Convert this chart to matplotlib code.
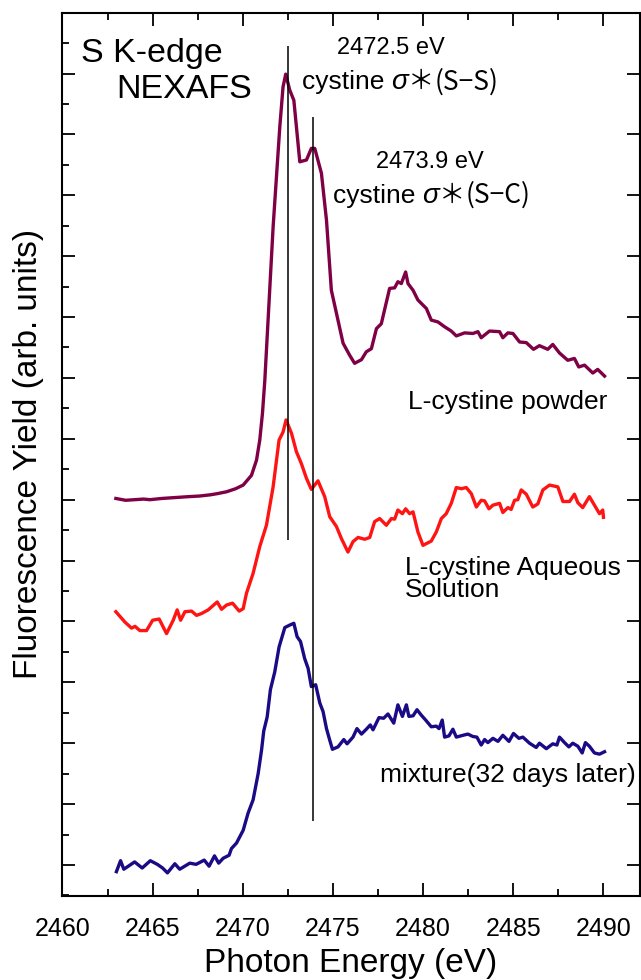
import matplotlib
matplotlib.use('Agg')
import matplotlib.pyplot as plt
from matplotlib.ticker import MultipleLocator, NullFormatter

plt.rcParams['font.family'] = ['Liberation Sans', 'DejaVu Sans']

# L-cystine powder
powder_x = [2462.96, 2463.5, 2464.0, 2464.5, 2464.85, 2465.5, 2466.0, 2466.5, 2467.0, 2467.6,
            2468.2, 2468.6, 2469.1, 2469.6, 2470.02, 2470.48, 2470.76, 2470.94, 2471.09, 2471.22,
            2471.68, 2472.05, 2472.23, 2472.38, 2472.60, 2472.83, 2473.16, 2473.53, 2473.80, 2473.99,
            2474.36, 2474.64, 2474.91, 2475.56, 2475.93, 2476.2, 2476.58, 2476.85, 2477.13, 2477.41,
            2477.68, 2478.14, 2478.42, 2478.6, 2478.79, 2479.03, 2479.16, 2479.44, 2479.71, 2480.18,
            2480.45, 2480.82, 2481.19, 2481.56, 2481.84, 2482.30, 2482.76, 2483.04, 2483.22, 2483.68,
            2484.24, 2484.42, 2484.70, 2484.98, 2485.35, 2485.72, 2486.12, 2486.45, 2486.91, 2487.19,
            2487.56, 2488.02, 2488.39, 2488.63, 2488.95, 2489.41, 2489.68, 2490.06]
powder_y = [6.02, 5.99, 6.00, 6.01, 6.00, 6.02, 6.03, 6.04, 6.05, 6.06,
            6.08, 6.10, 6.13, 6.18, 6.24, 6.40, 6.65, 6.98, 7.42, 7.96,
            10.48, 12.12, 12.78, 12.99, 12.73, 12.56, 11.55, 11.58, 11.77, 11.77,
            11.36, 10.59, 9.44, 8.57, 8.37, 8.24, 8.30, 8.43, 8.48, 8.81,
            8.89, 9.47, 9.48, 9.58, 9.55, 9.74, 9.55, 9.44, 9.28, 9.14,
            8.95, 8.92, 8.84, 8.77, 8.69, 8.74, 8.73, 8.76, 8.66, 8.77,
            8.76, 8.66, 8.74, 8.73, 8.59, 8.58, 8.47, 8.53, 8.47, 8.55,
            8.41, 8.29, 8.32, 8.18, 8.21, 8.08, 8.14, 8.03]

# L-cystine aqueous solution
aqueous_x = [2462.96, 2463.46, 2463.83, 2464.02, 2464.29, 2464.66, 2465.0, 2465.36, 2465.77, 2466.14,
             2466.36, 2466.55, 2466.79, 2467.16, 2467.43, 2467.71, 2468.08, 2468.58, 2468.82, 2469.10,
             2469.43, 2469.80, 2470.02, 2470.2, 2470.57, 2470.94, 2471.31, 2471.68, 2472.01, 2472.23,
             2472.40, 2472.70, 2472.97, 2473.25, 2473.53, 2473.80, 2474.17, 2474.54, 2474.82, 2475.19,
             2475.47, 2475.83, 2476.11, 2476.39, 2476.76, 2477.04, 2477.31, 2477.59, 2477.96, 2478.24,
             2478.42, 2478.6, 2478.85, 2479.03, 2479.25, 2479.44, 2479.71, 2479.99, 2480.45, 2480.73,
             2481.01, 2481.28, 2481.56, 2481.84, 2482.12, 2482.39, 2482.67, 2482.95, 2483.22, 2483.41,
             2483.65, 2483.87, 2484.24, 2484.42, 2484.70, 2484.88, 2485.07, 2485.25, 2485.44, 2485.72,
             2486.08, 2486.36, 2486.64, 2487.01, 2487.47, 2487.75, 2488.12, 2488.39, 2488.58, 2488.85,
             2489.22, 2489.50, 2489.78, 2489.96, 2490.0]
aqueous_y = [4.16, 3.99, 3.89, 3.92, 3.85, 3.85, 4.02, 4.04, 3.80, 4.02,
             4.19, 4.02, 4.16, 4.17, 4.10, 4.13, 4.19, 4.32, 4.20, 4.27,
             4.30, 4.17, 4.21, 4.46, 4.79, 5.23, 5.58, 6.21, 6.98, 7.11,
             7.31, 7.09, 6.79, 6.59, 6.35, 6.17, 6.31, 6.05, 5.72, 5.56,
             5.36, 5.14, 5.31, 5.38, 5.35, 5.38, 5.64, 5.69, 5.58, 5.69,
             5.68, 5.83, 5.77, 5.85, 5.77, 5.80, 5.47, 5.25, 5.32, 5.47,
             5.69, 5.77, 5.94, 6.20, 6.18, 6.20, 6.10, 5.88, 5.99, 5.98,
             5.85, 5.91, 5.94, 5.79, 5.87, 5.84, 5.99, 6.00, 6.16, 6.09,
             5.88, 5.93, 6.16, 6.24, 6.21, 5.97, 5.97, 6.09, 5.95, 5.87,
             6.05, 5.91, 5.77, 5.83, 5.71]

# mixture (32 days later)
mixture_x = [2462.99, 2463.22, 2463.40, 2464.0, 2464.42, 2464.87, 2465.26, 2465.55, 2465.82, 2466.23,
             2466.50, 2467.06, 2467.41, 2467.86, 2468.13, 2468.43, 2468.66, 2468.91, 2469.24, 2469.37,
             2469.65, 2470.02, 2470.29, 2470.57, 2470.85, 2471.04, 2471.16, 2471.35, 2471.53, 2471.77,
             2472.01, 2472.33, 2472.60, 2472.83, 2473.01, 2473.20, 2473.43, 2473.62, 2473.80, 2474.04,
             2474.27, 2474.45, 2474.64, 2474.82, 2474.97, 2475.28, 2475.60, 2475.78, 2476.11, 2476.33,
             2476.58, 2476.85, 2477.07, 2477.22, 2477.55, 2477.81, 2478.05, 2478.37, 2478.60, 2478.85,
             2479.07, 2479.21, 2479.44, 2479.66, 2479.90, 2480.14, 2480.45, 2480.73, 2480.88, 2481.06,
             2481.19, 2481.43, 2481.65, 2481.84, 2482.21, 2482.48, 2482.76, 2482.98, 2483.22, 2483.41,
             2483.59, 2483.87, 2484.15, 2484.42, 2484.76, 2485.01, 2485.31, 2485.53, 2485.90, 2486.27,
             2486.45, 2486.83, 2487.19, 2487.42, 2487.56, 2487.84, 2488.08, 2488.30, 2488.58, 2488.82,
             2489.0, 2489.22, 2489.50, 2489.78, 2490.06]
mixture_y = [-0.11, 0.07, -0.07, 0.05, -0.05, 0.07, 0.01, -0.05, -0.13, 0.02,
             -0.07, 0.03, 0.01, 0.08, -0.02, 0.15, 0.03, 0.11, 0.16, 0.27,
             0.36, 0.57, 0.85, 1.07, 1.50, 1.89, 2.20, 2.43, 2.88, 3.17,
             3.58, 3.90, 3.94, 3.97, 3.75, 3.67, 3.39, 3.23, 2.93, 2.96,
             2.66, 2.52, 2.24, 2.05, 1.90, 1.94, 2.06, 1.99, 2.10, 2.24,
             2.15, 2.23, 2.30, 2.22, 2.42, 2.41, 2.48, 2.33, 2.63, 2.44,
             2.63, 2.44, 2.45, 2.55, 2.46, 2.38, 2.27, 2.28, 2.24, 2.38,
             2.10, 2.12, 2.23, 2.10, 2.13, 2.15, 2.11, 2.10, 1.97, 2.06,
             2.01, 2.08, 2.03, 2.13, 2.03, 2.16, 2.08, 2.10, 2.00, 1.93,
             2.00, 1.91, 1.99, 1.97, 2.10, 2.01, 1.94, 2.00, 1.95, 1.84,
             2.01, 1.95, 1.84, 1.82, 1.86]

peak_energies = [2472.5, 2473.9]
peak_line_y = [(5.33, 13.45), (0.72, 12.28)]
peak_labels = ['2472.5 eV', '2473.9 eV']
bond_labels = ['(S−S)', '(S−C)']

fig = plt.figure(figsize=(6.41, 9.80), dpi=100)
ax = fig.add_axes([0.0975, 0.0857, 0.9002, 0.9014])

lw = 2.4
ax.plot(powder_x, powder_y, color='#7f0045', lw=lw)
ax.plot(aqueous_x, aqueous_y, color='#ff1414', lw=lw)
ax.plot(mixture_x, mixture_y, color='#1a0a85', lw=lw)

for e, (y0, y1) in zip(peak_energies, peak_line_y):
    ax.vlines(e, y0, y1, color='black', lw=1.1)

ax.set_xlim(2460, 2492)
ax.set_ylim(-0.51, 14)

ax.xaxis.set_major_locator(MultipleLocator(5))
ax.xaxis.set_minor_locator(MultipleLocator(2.5))
ax.yaxis.set_major_locator(MultipleLocator(1))
ax.yaxis.set_minor_locator(MultipleLocator(0.5))
ax.yaxis.set_major_formatter(NullFormatter())

ax.tick_params(which='both', direction='in', top=True, right=True, width=1.3)
ax.tick_params(which='major', length=9.5, labelsize=18, pad=15)
ax.tick_params(which='minor', length=5)
ax.tick_params(axis='y', which='minor', right=False)
for s in ax.spines.values():
    s.set_linewidth(1.5)

ax.set_xlabel('Photon Energy (eV)', fontsize=24, labelpad=5)
ax.set_ylabel('Fluorescence Yield (arb. units)', fontsize=24, labelpad=-2)

ax.text(2461.0, 13.33, 'S K-edge', fontsize=24.5, ha='left', va='center')
ax.text(2462.96, 12.73, 'NEXAFS', fontsize=24.5, ha='left', va='center')

# peak annotations: "2472.5 eV" / "cystine σ*(S−S)" built piece by piece
label_centers = [(2478.2, 13.42), (2480.4, 11.54)]
line2_pos = [(2473.27, 12.74), (2474.99, 10.87)]
for (cx, cy), (lx, ly), pl, bl in zip(label_centers, line2_pos, peak_labels, bond_labels):
    ax.text(cx, cy, pl, fontsize=17, ha='center', va='center')
    t1 = ax.text(lx, ly, 'cystine ', fontsize=19, ha='left', va='baseline')
    t2 = ax.annotate('σ', xy=(1, ly), xycoords=(t1, 'data'), fontsize=20,
                     style='italic', ha='left', va='baseline')
    t3 = ax.annotate('＊', xy=(1, ly), xycoords=(t2, 'data'), fontsize=19,
                     family=['Noto Sans CJK JP'], ha='left', va='baseline')
    ax.annotate(bl, xy=(1, ly), xycoords=(t3, 'data'), fontsize=19,
                family=['Noto Sans CJK JP'], ha='left', va='baseline')

ax.text(2490.2, 7.60, 'L-cystine powder', fontsize=19, ha='right', va='center')
ax.text(2479.0, 4.88, 'L-cystine Aqueous', fontsize=19, ha='left', va='center')
ax.text(2479.0, 4.52, 'Solution', fontsize=19, ha='left', va='center')
ax.text(2477.6, 1.48, 'mixture(32 days later)', fontsize=19, ha='left', va='center')

fig.savefig('out.png', dpi=100)
